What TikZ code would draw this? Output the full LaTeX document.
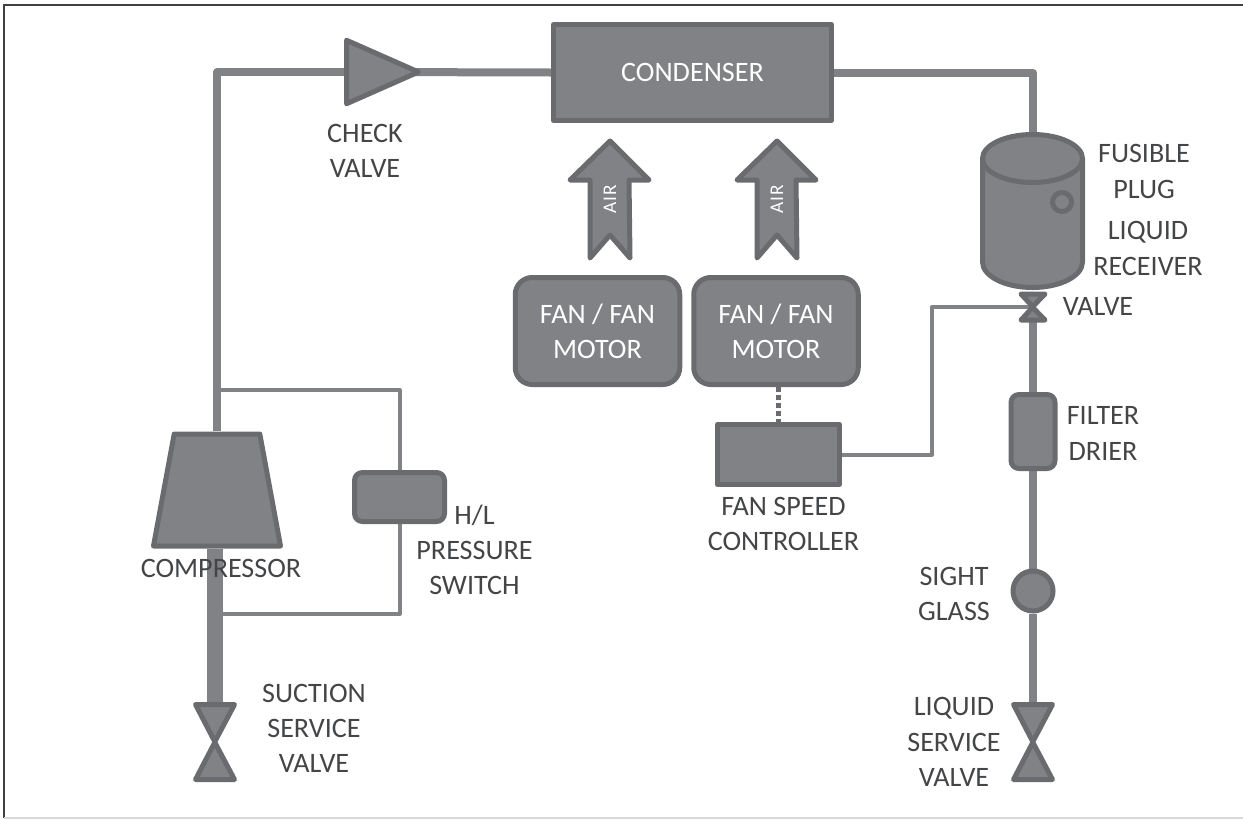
\documentclass[tikz,border=0pt]{standalone}
\usepackage{fontspec}
\setmainfont{Carlito}
\usepackage{tikz}
\usetikzlibrary{arrows.meta,positioning,calc,shapes.geometric,backgrounds}
\definecolor{unitfill}{HTML}{808285}
\definecolor{unitline}{HTML}{6A6B6E}
\definecolor{pipegray}{HTML}{808285}
\definecolor{labelgray}{HTML}{444547}
\tikzset{
  unit/.style={draw=unitline, line width=1mm, fill=unitfill, line join=round, inner sep=0pt, align=center, text=white, font=\fontsize{16}{20}\selectfont},
  boxr/.style={unit, rounded corners=1.6mm},
  fanbox/.style={unit, rounded corners=3.4mm, minimum width=32.9mm, minimum height=21.4mm},
  pipe/.style={draw=pipegray, line width=1.6mm, line join=round},
  fatpipe/.style={draw=pipegray, line width=3.2mm},
  ctrl/.style={draw=pipegray, line width=.8mm, line join=round},
  lbl/.style={align=center, inner sep=0pt, text=labelgray, font=\fontsize{16}{20}\selectfont},
  spot/.style={inner sep=0pt, minimum size=0pt},
}
\newcommand{\valvepair}[5]{% name, x, y of waist, half width, half height
  \node[spot] (#1) at (#2,#3) {};
  \coordinate (#1top) at ($(#1)+(0,-#5)$);
  \coordinate (#1bot) at ($(#1)+(0,#5)$);
  \filldraw[unit] (#1) -- ($(#1)+(-#4,-#5)$) -- ($(#1)+(#4,-#5)$) -- cycle;
  \filldraw[unit] (#1) -- ($(#1)+(-#4,#5)$) -- ($(#1)+(#4,#5)$) -- cycle;
}
\newcommand{\airarrow}[2]{% name, x
  \node[spot] (#1) at (#2,199) {};
  \filldraw[unit] (#2,141) -- ++(39,39) -- ++(-20,0) -- (#2+20,258) -- (#2,235) -- (#2-20,258) -- (#2-20,180) -- ++(-20,0) -- cycle;
  \node[rotate=90, text=white, inner sep=0pt, font=\fontsize{11}{12}\selectfont] at (#1) {A\kern.6pt I\kern.6pt R};
}
\begin{document}
\begin{tikzpicture}[x=.2mm,y=-.2mm]
  \useasboundingbox (0,0) rectangle (1243,819);
  \coordinate (fa) at (1243,5);
  \coordinate (fb) at (4,5);
  \coordinate (fc) at (4,818);
  \coordinate (fd) at (1243,818);
  \draw[black!75, line width=.3mm] (fa) -- (fb) -- (fc);
  \draw[black!15, line width=.4mm] (fc) -- (fd);

  \node[unit, minimum width=55.6mm, minimum height=19.2mm] (condenser) at (692.5,72.5) {CONDENSER};
  \node[unit, inner sep=.5pt, isosceles triangle, isosceles triangle stretches=true, minimum width=12.7mm, minimum height=14.4mm, anchor=lower side] (check) at (344,72) {};
  \node[unit, inner sep=.5pt, trapezium, trapezium stretches=true, trapezium left angle=76.4, trapezium right angle=76.4, minimum width=25.4mm, minimum height=22.4mm] (compressor) at (217,490) {};
  \node[fanbox] (fanleft) at (597.5,331) {FAN / FAN\\MOTOR};
  \node[fanbox] (fanright) at (776,331) {FAN / FAN\\MOTOR};
  \node[unit, minimum width=24.4mm, minimum height=12mm] (fsc) at (778.5,454.5) {};
  \node[boxr, minimum width=18mm, minimum height=9.8mm] (psw) at (399.5,497) {};
  \node[boxr, minimum width=8.8mm, minimum height=14.8mm] (drier) at (1033,431.5) {};
  \node[unit, circle, minimum size=8mm] (sight) at (1033,591) {};
  \airarrow{airleft}{610}
  \airarrow{airright}{777}

  % receiver
  \node[spot] (rtop) at (1033,140) {};
  \filldraw[unit] (982.5,158.5) arc[start angle=180, end angle=360, x radius=50, y radius=24] -- (1082.5,262) arc[start angle=0, end angle=180, x radius=50, y radius=25.5] -- cycle;
  \draw[unitline, line width=1mm] (982.5,158.5) arc[start angle=180, end angle=0, x radius=50, y radius=24];
  \node[draw=unitline, line width=1mm, circle, minimum size=3.8mm, inner sep=0pt] (plug) at (1062,202) {};

  \valvepair{recvalve}{1033}{307}{12}{13}
  \valvepair{suction}{215}{742}{19.5}{37.5}
  \valvepair{liquid}{1033}{742}{19.5}{37.5}

  \coordinate (taphigh) at (217,390);
  \coordinate (taplow) at (217,614);
  \coordinate (bendfsc) at (932,307);
  \begin{scope}[on background layer]
    \draw[pipe] (compressor.north) |- (check.center);
    \draw[pipe] (check.center) -- (condenser.west);
    \draw[pipe] (condenser.east) -| (rtop);
    \draw[pipe] (recvalvebot) -- (drier);
    \draw[pipe] (drier) -- (sight);
    \draw[pipe] (sight) -- (liquidtop);
    \draw[fatpipe] (suctiontop |- compressor.south) -- (suctiontop);
    \draw[ctrl] (taphigh) -| (psw.north);
    \draw[ctrl] (psw.south) |- (taplow);
    \draw[ctrl] (recvalve) -- (bendfsc) |- (fsc.east);
    \draw[draw=unitline, line width=.9mm, dash pattern=on .9mm off .7mm] (fanright.south -| fsc.north) -- (fsc.north);
  \end{scope}

  \node[lbl] (lcheck) at (365,151) {CHECK\\VALVE};
  \node[lbl] (lcomp) at (221,568) {COMPRESSOR};
  \node[lbl] (lpress) at (474.5,549.5) {H/L\\PRESSURE\\SWITCH};
  \node[lbl] (lsuct) at (314,728.5) {SUCTION\\SERVICE\\VALVE};
  \node[lbl] (lfsc) at (783.5,524) {FAN SPEED\\CONTROLLER};
  \node[lbl] (lfus) at (1144,171.5) {FUSIBLE\\PLUG};
  \node[lbl] (lrecv) at (1148,248.5) {LIQUID\\RECEIVER};
  \node[lbl] (lval) at (1098,306) {VALVE};
  \node[lbl] (ldrier) at (1103,433.5) {FILTER\\DRIER};
  \node[lbl] (lsight) at (954,594) {SIGHT\\GLASS};
  \node[lbl] (lliq) at (954,742) {LIQUID\\SERVICE\\VALVE};
\end{tikzpicture}
\end{document}
